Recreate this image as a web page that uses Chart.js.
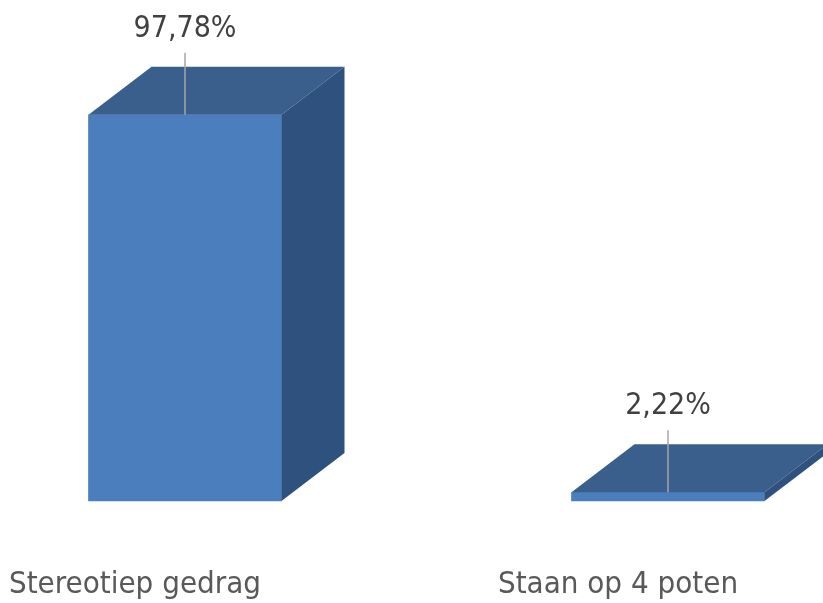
<!DOCTYPE html>
<html>
<head>
<meta charset="utf-8">
<script src="https://cdn.jsdelivr.net/npm/chart.js@4/dist/chart.umd.min.js"></script>
<style>
    html, body { margin: 0; padding: 0; background: #ffffff; }
    canvas { display: block; }
</style>
</head>
<body>
<canvas id="barChart" width="823" height="603"></canvas>
<script>
// chart data
const categories = ["Stereotiep gedrag", "Staan op 4 poten"];
const percentages = [97.78, 2.22];

const FONT = "'Liberation Sans Narrow', 'DejaVu Sans Condensed', 'Open Sans', sans-serif";
const DEPTH_X = 63;  // 3d depth offset of the bars
const DEPTH_Y = 48;

function pct(v) {
    return v.toFixed(2).replace(".", ",") + "%";
}

// draws top + side faces and the value labels with leader lines
const bars3d = {
    id: "bars3d",
    afterDatasetsDraw(chart) {
        const ctx = chart.ctx;
        const meta = chart.getDatasetMeta(0);
        ctx.save();
        meta.data.forEach(function (bar, i) {
            const half = bar.width / 2;
            const left = bar.x - half;
            const right = bar.x + half;
            const top = bar.y;
            const bottom = bar.base;

            // top face
            ctx.fillStyle = "#3a5f8d";
            ctx.beginPath();
            ctx.moveTo(left, top);
            ctx.lineTo(left + DEPTH_X, top - DEPTH_Y);
            ctx.lineTo(right + DEPTH_X, top - DEPTH_Y);
            ctx.lineTo(right, top);
            ctx.closePath();
            ctx.fill();

            // right side face
            ctx.fillStyle = "#2f517d";
            ctx.beginPath();
            ctx.moveTo(right, top);
            ctx.lineTo(right + DEPTH_X, top - DEPTH_Y);
            ctx.lineTo(right + DEPTH_X, bottom - DEPTH_Y);
            ctx.lineTo(right, bottom);
            ctx.closePath();
            ctx.fill();

            // leader line
            ctx.strokeStyle = "#a6a6a6";
            ctx.lineWidth = 1.5;
            ctx.beginPath();
            ctx.moveTo(Math.round(bar.x), top - 62);
            ctx.lineTo(Math.round(bar.x), top);
            ctx.stroke();

            // value label
            ctx.fillStyle = "#404040";
            ctx.font = "30px " + FONT;
            ctx.textAlign = "center";
            ctx.textBaseline = "middle";
            ctx.fillText(pct(percentages[i]), bar.x, top - 86);
        });
        ctx.restore();
    },
};

const ctx = document.getElementById("barChart").getContext("2d");
new Chart(ctx, {
    type: "bar",
    data: {
        labels: categories,
        datasets: [
            {
                data: percentages,
                backgroundColor: "#4b7ebc",
                borderWidth: 0,
                barThickness: 193,
                clip: false,
            },
        ],
    },
    options: {
        responsive: false,
        animation: false,
        layout: {
            padding: { left: 185, right: 155, top: 106, bottom: 0 },
        },
        plugins: {
            legend: { display: false },
            tooltip: { enabled: false },
        },
        scales: {
            x: {
                offset: false,
                grid: { display: false, drawTicks: false },
                border: { display: false },
                ticks: {
                    labelOffset: -50,
                    padding: 65,
                    color: "#595959",
                    font: { family: FONT, size: 31 },
                    maxRotation: 0,
                    autoSkip: false,
                },
                afterFit(scale) {
                    scale.height = 102;
                    scale.paddingLeft = 0;
                    scale.paddingRight = 0;
                },
            },
            y: {
                display: false,
                min: 0,
                max: 100,
            },
        },
    },
    plugins: [bars3d],
});
</script>
</body>
</html>
